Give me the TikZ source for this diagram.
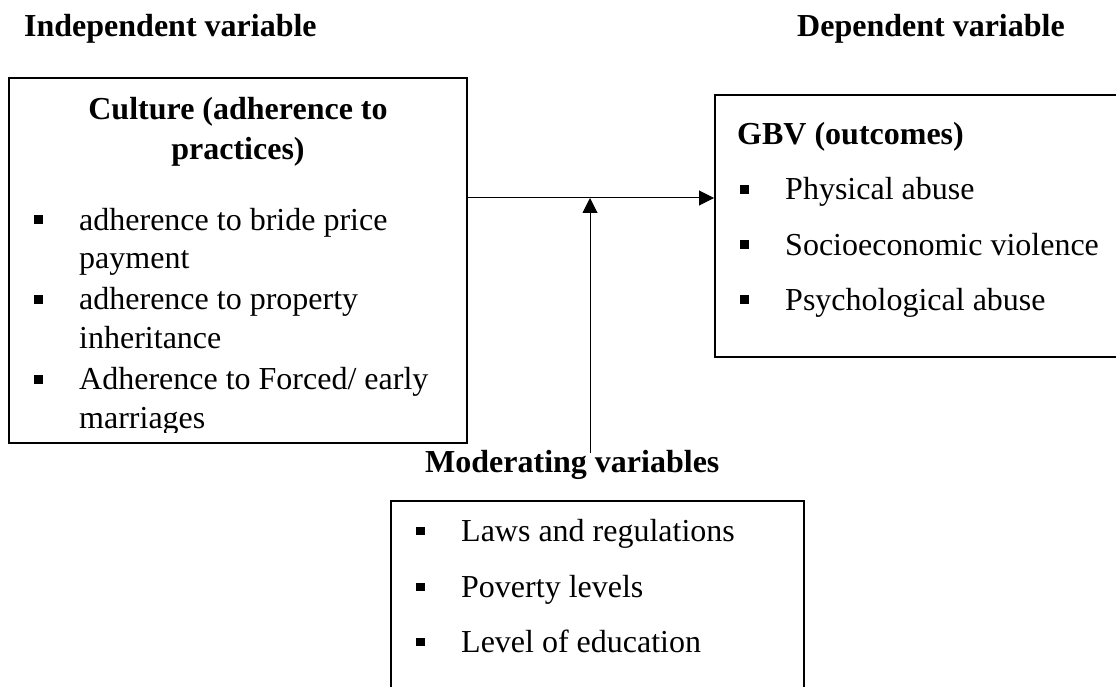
\documentclass[tikz,border=0pt]{standalone}
\usepackage{fontspec}
\setmainfont{Liberation Serif}
\usetikzlibrary{arrows.meta}
\begin{document}
\begin{tikzpicture}[x=1pt,y=-1pt,
  txt/.style={inner sep=0pt, anchor=base west, font=\fontsize{32}{38}\selectfont},
  head/.style={inner sep=0pt, anchor=base, font=\fontsize{32}{38}\selectfont\bfseries},
  box/.style={draw, line width=2pt, inner sep=0pt},
  bul/.style={fill=black, minimum width=9pt, minimum height=8.5pt, inner sep=0pt},
  conn/.style={line width=1pt, -{Triangle[length=15pt,width=15pt]}}]
\useasboundingbox (0,0) rectangle (1116,687);
\fill[white] (0,0) rectangle (1116,687);
% headings
\node[txt, font=\fontsize{32}{38}\selectfont\bfseries] (indep) at (24,37) {Independent variable};
\node[txt, font=\fontsize{32}{38}\selectfont\bfseries] (dep) at (797,37) {Dependent variable};
% left box
\node[box, minimum width=458pt, minimum height=365pt] (left) at (238,260.5) {};
\node[head] (lt1) at (238,120) {Culture (adherence to};
\node[head] (lt2) at (238,160) {practices)};
\node[bul] (lb1) at (38,219.5) {};
\node[txt] (l1a) at (79,230) {adherence to bride price};
\node[txt] (l1b) at (79,268) {payment};
\node[bul] (lb2) at (38,299.5) {};
\node[txt] (l2a) at (79,309) {adherence to property};
\node[txt] (l2b) at (79,348) {inheritance};
\node[bul] (lb3) at (38,379.5) {};
\node[txt] (l3a) at (79,389) {Adherence to Forced/ early};
\begin{scope}
\clip (9,78) rectangle (467,432);
\node[txt] (l3b) at (79,428) {marriages};
\end{scope}
% right box
\node[box, minimum width=410pt, minimum height=262pt] (right) at (920,226) {};
\node[txt, font=\fontsize{32}{38}\selectfont\bfseries] (rt) at (737,145) {GBV (outcomes)};
\node[bul] (rb1) at (744,189.5) {};
\node[txt] (r1) at (785,200) {Physical abuse};
\node[bul] (rb2) at (744,244.5) {};
\node[txt] (r2) at (785,255) {Socioeconomic violence};
\node[bul] (rb3) at (744,299.5) {};
\node[txt] (r3) at (785,310) {Psychological abuse};
% moderating
\node[txt, font=\fontsize{32}{38}\selectfont\bfseries] (mod) at (425,472) {Moderating variables};
\node[box, minimum width=413pt, minimum height=220pt] (bottom) at (597.5,611) {};
\node[bul] (bb1) at (420,531) {};
\node[txt] (b1) at (461,541) {Laws and regulations};
\node[bul] (bb2) at (420,587) {};
\node[txt] (b2) at (461,597) {Poverty levels};
\node[bul] (bb3) at (420,642) {};
\node[txt] (b3) at (461,652) {Level of education};
% connectors
\coordinate (j) at (590,198);
\coordinate (mtop) at (590,453);
\draw[conn] (left.east |- j) -- (right.west |- j);
\draw[conn] (mtop) -- (j);
\end{tikzpicture}
\end{document}
